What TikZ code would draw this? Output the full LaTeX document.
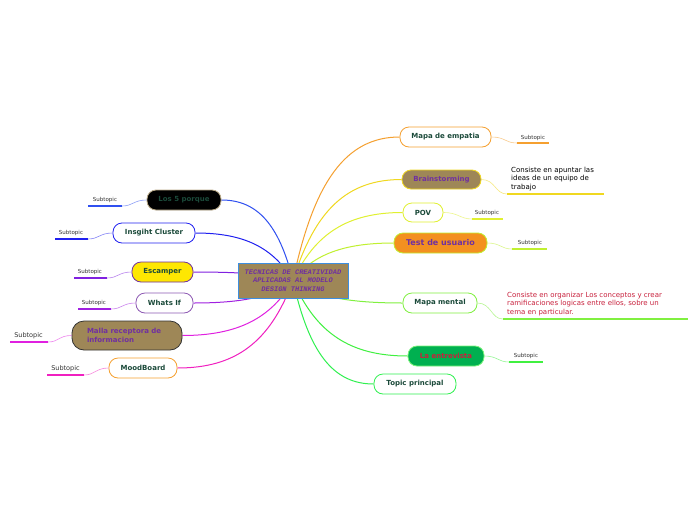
\documentclass[tikz,border=0pt]{standalone}
\usepackage{fontspec}
\setmainfont{DejaVu Sans}
\newfontfamily\cmono{Liberation Mono}
\usetikzlibrary{backgrounds}
\definecolor{cbrown}{HTML}{9E8757}
\definecolor{tdark}{HTML}{1B4A3A}
\definecolor{purp}{HTML}{7030A0}
\definecolor{crim}{HTML}{C8203C}
\definecolor{cemp}{HTML}{F5A030}
\definecolor{cbrain}{HTML}{F0D820}
\definecolor{cpov}{HTML}{E0F030}
\definecolor{ctest}{HTML}{C0F030}
\definecolor{cmental}{HTML}{80F040}
\definecolor{centre}{HTML}{40F040}
\definecolor{ctopic}{HTML}{30F050}
\definecolor{clos}{HTML}{3050F0}
\definecolor{cinsg}{HTML}{2020F0}
\definecolor{cesc}{HTML}{8020E0}
\definecolor{cwhat}{HTML}{A020E0}
\definecolor{cmalla}{HTML}{E020E0}
\definecolor{cmood}{HTML}{F020C0}
\definecolor{ctrb}{HTML}{3D8EE0}
\definecolor{subt}{HTML}{333333}
\definecolor{cgreenf}{HTML}{00B050}
\definecolor{ctestf}{HTML}{F39020}
\begin{document}
\begin{tikzpicture}[x=1pt,y=-1pt,
  topic/.style={rounded corners=9pt, draw, line width=0.8pt, minimum height=20pt,
    inner sep=0pt, font=\fontsize{7}{8.5}\selectfont\bfseries, text=tdark, fill=white},
  ctrbox/.style={draw=ctrb, line width=0.8pt, fill=cbrown, minimum width=110pt,
    minimum height=35pt, inner sep=0pt, align=center, text=purp,
    font=\cmono\fontsize{7}{8.5}\selectfont\bfseries\itshape},
  branch/.style={line width=1pt},
  subline/.style={line width=0.6pt, opacity=0.55},
  uline/.style={line width=1.2pt},
  sub/.style={font=\fontsize{5.5}{6.5}\selectfont, text=subt, inner sep=0pt},
  subbig/.style={font=\fontsize{6.5}{7.5}\selectfont, text=subt, inner sep=0pt},
  desc/.style={font=\fontsize{7}{8.6}\selectfont, align=left, inner sep=0pt, anchor=west}
]
\useasboundingbox (0,0) rectangle (696,520);

% center
\node[ctrbox] (c) at (293,280.5) {TECNICAS DE CREATIVIDAD\\APLICADAS AL MODELO\\DESIGN THINKING};

% right topics
\node[topic, draw=cemp, minimum width=91pt] (emp) at (445.5,137) {Mapa de empatia};
\node[topic, draw=cbrain, fill=cbrown, text=purp, minimum width=79pt, minimum height=19pt] (brain) at (441.5,179.5) {Brainstorming};
\node[topic, draw=cpov, minimum width=40pt, minimum height=19pt] (pov) at (423,212.5) {POV};
\node[topic, draw=ctest, fill=ctestf, text=purp, minimum width=93pt,
  font=\fontsize{8}{9.5}\selectfont\bfseries] (test) at (440.5,243) {Test de usuario};
\node[topic, draw=cmental, minimum width=74pt] (mental) at (440,303) {Mapa mental};
\node[topic, draw=centre!70!white, fill=cgreenf, text=crim, minimum width=76pt] (entre) at (446,356) {La entrevista};
\node[topic, draw=ctopic, minimum width=82pt] (topicp) at (415,384) {Topic principal};

% left topics
\node[topic, draw=cbrown!70!white, fill=black, text=tdark, minimum width=74pt] (los) at (184,200) {Los 5 porque};
\node[topic, draw=cinsg, minimum width=82pt] (insg) at (154,233) {Insgiht Cluster};
\node[topic, draw=purp, fill=yellow!90!orange, minimum width=61pt] (esc) at (162.5,272) {Escamper};
\node[topic, draw=purp!80!white, minimum width=57pt] (what) at (164.5,303) {Whats If};
\node[topic, draw=black!80, fill=cbrown, text=purp, minimum width=110pt, minimum height=29pt,
  text width=80pt, inner xsep=15pt, align=left, rounded corners=12pt] (malla) at (127,335.5) {Malla receptora de\\informacion};
\node[topic, draw=cemp, minimum width=68pt] (mood) at (143,368) {MoodBoard};

% sub coordinates
\coordinate (e1) at (517,143); \coordinate (e2) at (549,143);
\coordinate (b1) at (507,194); \coordinate (b2) at (604,194);
\coordinate (p1) at (472,219); \coordinate (p2) at (503,219);
\coordinate (t1) at (512,249); \coordinate (t2) at (547,249);
\coordinate (m1) at (503,319); \coordinate (m2) at (688,319);
\coordinate (n1) at (509,362); \coordinate (n2) at (543,362);
\coordinate (l1) at (122,206); \coordinate (l2) at (88,206);
\coordinate (i1) at (88,239); \coordinate (i2) at (55,239);
\coordinate (s1) at (107,278); \coordinate (s2) at (74,278);
\coordinate (w1) at (111,309); \coordinate (w2) at (78,309);
\coordinate (a1) at (48,342); \coordinate (a2) at (10,342);
\coordinate (o1) at (84,375); \coordinate (o2) at (47,375);

% sub labels
\node[sub] (embsub) at (533,137.5) {Subtopic};
\node[desc] (braindesc) at (511,179) {Consiste en apuntar las\\ideas de un equipo de\\trabajo};
\node[sub] (povsub) at (487,213) {Subtopic};
\node[sub] (testsub) at (530,243) {Subtopic};
\node[desc, text=crim] (mentaldesc) at (507,304) {Consiste en organizar Los conceptos y crear\\ramificaciones logicas entre ellos, sobre un\\tema en particular.};
\node[sub] (entresub) at (526,356) {Subtopic};
\node[sub] (lossub) at (105,200) {Subtopic};
\node[sub] (insgsub) at (71,233) {Subtopic};
\node[sub] (escsub) at (90,272) {Subtopic};
\node[sub] (whatsub) at (94,303) {Subtopic};
\node[subbig] (mallasub) at (28.5,336) {Subtopic};
\node[subbig] (moodsub) at (65.5,368.5) {Subtopic};

\begin{pgfonlayer}{background}
\fill[white] (0,0) rectangle (696,520);
% main branches
\draw[branch, cemp] (c.center) .. controls +(21,-100) and +(-53,0) .. (emp.west);
\draw[branch, cbrain] (c.center) .. controls +(22,-71) and +(-54,0) .. (brain.west);
\draw[branch, cpov] (c.center) .. controls +(22,-47) and +(-55,0) .. (pov.west);
\draw[branch, ctest] (c.center) .. controls +(20,-26) and +(-50,0) .. (test.west);
\draw[branch, cmental] (c.center) .. controls +(22,16) and +(-55,0) .. (mental.west);
\draw[branch, centre] (c.center) .. controls +(23,53) and +(-57,0) .. (entre.west);
\draw[branch, ctopic] (c.center) .. controls +(16,73) and +(-40,0) .. (topicp.west);
\draw[branch, clos] (c.center) .. controls +(-14,-56) and +(36,0) .. (los.east);
\draw[branch, cinsg] (c.center) .. controls +(-20,-33) and +(49,0) .. (insg.east);
\draw[branch, cesc] (c.center) .. controls +(-20,-6) and +(50,0) .. (esc.east);
\draw[branch, cwhat] (c.center) .. controls +(-20,16) and +(50,0) .. (what.east);
\draw[branch, cmalla] (c.center) .. controls +(-22,38) and +(55,0) .. (malla.east);
\draw[branch, cmood] (c.center) .. controls +(-23,62) and +(58,0) .. (mood.east);
\end{pgfonlayer}

% sub connectors
\draw[subline, cemp] (emp.east) .. controls +(14,0) and +(-12,0) .. (e1);
\draw[uline, cemp] (e1) -- (e2);
\draw[subline, cbrain] (brain.east) .. controls +(14,0) and +(-12,0) .. (b1);
\draw[uline, cbrain] (b1) -- (b2);
\draw[subline, cpov] (pov.east) .. controls +(15,0) and +(-12,0) .. (p1);
\draw[uline, cpov] (p1) -- (p2);
\draw[subline, ctest] (test.east) .. controls +(13,0) and +(-11,0) .. (t1);
\draw[uline, ctest] (t1) -- (t2);
\draw[subline, cmental] (mental.east) .. controls +(14,0) and +(-12,0) .. (m1);
\draw[uline, cmental] (m1) -- (m2);
\draw[subline, centre] (entre.east) .. controls +(13,0) and +(-11,0) .. (n1);
\draw[uline, centre] (n1) -- (n2);
\draw[subline, clos] (los.west) .. controls +(-13,0) and +(11,0) .. (l1);
\draw[uline, clos] (l1) -- (l2);
\draw[subline, cinsg] (insg.west) .. controls +(-13,0) and +(11,0) .. (i1);
\draw[uline, cinsg] (i1) -- (i2);
\draw[subline, cesc] (esc.west) .. controls +(-13,0) and +(11,0) .. (s1);
\draw[uline, cesc] (s1) -- (s2);
\draw[subline, cwhat] (what.west) .. controls +(-13,0) and +(11,0) .. (w1);
\draw[uline, cwhat] (w1) -- (w2);
\draw[subline, cmalla] (malla.west) .. controls +(-13,0) and +(11,0) .. (a1);
\draw[uline, cmalla] (a1) -- (a2);
\draw[subline, cmood] (mood.west) .. controls +(-13,0) and +(11,0) .. (o1);
\draw[uline, cmood] (o1) -- (o2);
\end{tikzpicture}
\end{document}
